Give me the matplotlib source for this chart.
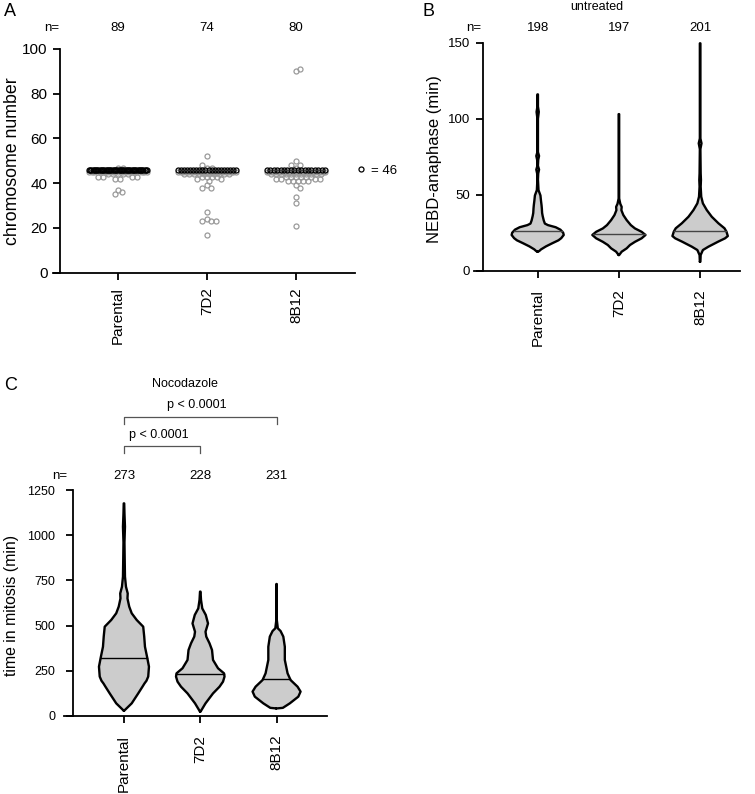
import numpy as np
import matplotlib
matplotlib.use('Agg')
import matplotlib.pyplot as plt
from matplotlib.lines import Line2D
from matplotlib.transforms import blended_transform_factory

plt.rcParams['font.family'] = ['Liberation Sans', 'DejaVu Sans']

W, H = 755, 794
groups = ['Parental', '7D2', '8B12']

# ---- A: chromosome number per cell (value -> number of cells)
par_chrom = [35, 36, 37, 42, 43, 44, 45, 46, 47]
par_cells = [1, 1, 1, 2, 4, 5, 23, 50, 2]
d7_chrom = [17, 23, 24, 27, 38, 39, 41, 42, 43, 44, 45, 46, 47, 48, 52]
d7_cells = [1, 3, 1, 1, 2, 1, 1, 2, 4, 10, 24, 20, 2, 1, 1]
b8_chrom = [21, 31, 34, 38, 39, 41, 42, 43, 44, 45, 46, 47, 48, 50, 90, 91]
b8_cells = [1, 1, 1, 1, 1, 5, 4, 6, 11, 25, 18, 1, 2, 1, 1, 1]
n_a = [89, 74, 80]

# ---- B: NEBD-anaphase (min), untreated: violin profiles (min, relative density)
b_par_min = [12.5, 13, 14, 16, 18, 20, 21.4, 23.5, 25, 27, 28.6, 30, 31, 33, 36, 38, 41, 43, 46, 49.5, 53,
             60, 64, 66.5, 69, 73, 75.5, 78, 100, 104.5, 108, 116]
b_par_den = [0.01, 0.06, 0.12, 0.3, 0.52, 0.75, 0.85, 0.94, 0.92, 0.82, 0.65, 0.37, 0.26, 0.22, 0.18, 0.16, 0.15,
             0.14, 0.12, 0.1, 0.03, 0.01, 0.02, 0.05, 0.01, 0.02, 0.05, 0.01, 0.01, 0.04, 0.01, 0.01]
b_d7_min = [10.3, 12.5, 14.7, 16.9, 19, 21.3, 23.5, 25.6, 27.8, 30, 33.3, 36.6, 39.8, 42, 44, 47.5, 103]
b_d7_den = [0.01, 0.1, 0.28, 0.4, 0.58, 0.82, 0.96, 0.82, 0.58, 0.43, 0.28, 0.16, 0.09, 0.1, 0.05, 0.01, 0.01]
b_b8_min = [5.9, 10.3, 13.6, 15.8, 19.1, 21.3, 22.8, 25.7, 27.9, 31.2, 35.5, 39.9, 44.3, 48.7, 55.3, 59.7,
            64, 80, 83.8, 87, 149.6]
b_b8_den = [0.01, 0.02, 0.1, 0.3, 0.65, 0.9, 1.0, 0.95, 0.88, 0.66, 0.42, 0.24, 0.1, 0.04, 0.02, 0.03,
            0.02, 0.01, 0.05, 0.01, 0.01]
median_b = [26, 24, 26]
n_b = [198, 197, 201]

# ---- C: time in mitosis (min), nocodazole
c_par_min = [29.5, 70, 125, 162, 180, 195, 218, 273, 323, 383, 439, 494, 531, 568, 605, 650, 678, 715,
             771, 863, 960, 1047, 1120, 1176]
c_par_den = [0.01, 0.31, 0.57, 0.74, 0.82, 0.9, 0.97, 1.0, 0.93, 0.84, 0.81, 0.77, 0.51, 0.31, 0.21,
             0.14, 0.15, 0.08, 0.04, 0.03, 0.02, 0.04, 0.02, 0.01]
c_d7_min = [24, 70, 125, 162, 190, 218, 236, 264, 310, 365, 402, 439, 466, 512, 559, 595, 642, 688]
c_d7_den = [0.01, 0.21, 0.51, 0.77, 0.91, 0.97, 0.95, 0.71, 0.51, 0.47, 0.37, 0.24, 0.21, 0.31, 0.22,
            0.08, 0.03, 0.01]
c_b8_min = [42, 45, 70, 107, 135, 162, 199, 236, 310, 383, 439, 470, 485, 531, 730]
c_b8_den = [0.02, 0.25, 0.53, 0.87, 0.96, 0.84, 0.56, 0.44, 0.33, 0.33, 0.27, 0.16, 0.05, 0.01, 0.01]
median_c = [323, 230, 203]
n_c = [273, 228, 231]
comparisons = [(0, 1, 'p < 0.0001'), (0, 2, 'p < 0.0001')]


fig = plt.figure(figsize=(W / 100, H / 100), dpi=100)


def px_axes(x0, x1, ytop, ybot):
    return fig.add_axes([x0 / W, 1 - ybot / H, (x1 - x0) / W, (ybot - ytop) / H])


def fy(ypx):
    return 1 - ypx / H


def style(ax, spine_x, ysize, pad_y, pad_x):
    for s in ['top', 'right']:
        ax.spines[s].set_visible(False)
    ax.spines['left'].set_position(('data', spine_x))
    for s in ['left', 'bottom']:
        ax.spines[s].set_linewidth(1.3)
    ax.tick_params(axis='y', direction='out', length=5, width=1.3, labelsize=ysize, pad=pad_y)
    ax.tick_params(axis='x', direction='out', length=5, width=1.3, labelsize=11, pad=pad_x)
    ax.set_xticks(range(3))
    ax.set_xticklabels(groups, rotation=90, va='top', ha='center')


def swarm(values, counts, px_x, px_y, d=5.0, maxw=58.0, dense=8, step=0.5):
    xs, ys = [], []
    placed = []
    mode = values[int(np.argmax(counts))]
    order = sorted(range(len(values)), key=lambda i: abs(values[i] - mode))
    for i in order:
        v, k = values[i], counts[i]
        if k >= dense:
            s = min(d, maxw / (k - 1))
            offs = (np.arange(k) - (k - 1) / 2) * s
            xs += list(offs)
            ys += [v] * k
            continue
        yp = v * px_y
        for _ in range(k):
            found = None
            for m in range(400):
                for sgn in (1, -1):
                    c = sgn * m * step
                    if all((c - px) ** 2 + (yp - py) ** 2 >= d * d - 1e-6 for px, py in placed):
                        found = c
                        break
                if found is not None:
                    break
            placed.append((found, yp))
            xs.append(found)
            ys.append(v)
    return np.array(xs) / px_x, np.array(ys)


def violin(ax, c, vals, dens, half, med, mcol):
    vals = np.asarray(vals, float)
    w = np.asarray(dens, float) * half
    ax.fill_betweenx(vals, c - w, c + w, facecolor='#cccccc', edgecolor='none', zorder=2, clip_on=False)
    xs = np.r_[c - w, (c + w)[::-1], c - w[0]]
    ys = np.r_[vals, vals[::-1], vals[0]]
    ax.plot(xs, ys, color='black', lw=1.7, solid_joinstyle='round', solid_capstyle='round',
            zorder=3, clip_on=False)
    mw = np.interp(med, vals, w)
    ax.plot([c - mw, c + mw], [med, med], color=mcol, lw=1.0, zorder=3)


# ================= Panel A
ax_a = px_axes(53, 355, 49, 272.7)
ax_a.set_xlim(-0.730, 2.663)
ax_a.set_ylim(0, 100)
style(ax_a, -0.652, 11, 4, 5.5)
ax_a.set_yticks(range(0, 101, 20))
ax_a.set_ylabel('chromosome number', fontsize=12.8)
ax_a.yaxis.set_label_coords(21 / W, fy(161), transform=fig.transFigure)

for gi, (vals, cnts) in enumerate([(par_chrom, par_cells), (d7_chrom, d7_cells), (b8_chrom, b8_cells)]):
    ox, yy = swarm(vals, cnts, 89.0, 2.237)
    grey = yy != 46
    ax_a.plot(gi + ox[grey], yy[grey], ls='none', marker='o', ms=3.6, mfc='none', mec='#9a9a9a',
              mew=0.9, zorder=3, clip_on=False)
    ax_a.plot(gi + ox[~grey], yy[~grey], ls='none', marker='o', ms=3.6, mfc='none', mec='black',
              mew=0.9, zorder=4, clip_on=False)

ax_a.legend(handles=[Line2D([], [], ls='none', marker='o', ms=3.6, mfc='none', mec='black', mew=0.9)],
            labels=['= 46'], loc='center left', bbox_to_anchor=(356 / W, fy(170.7)),
            bbox_transform=fig.transFigure, frameon=False, handlelength=0.8, handletextpad=0.3,
            borderpad=0, borderaxespad=0, fontsize=9.5)

tr_a = blended_transform_factory(ax_a.transData, fig.transFigure)
for gi, n in enumerate(n_a):
    ax_a.text(gi, fy(28), str(n), transform=tr_a, ha='center', va='center', fontsize=9.5)
fig.text(52 / W, fy(28), 'n=', ha='center', va='center', fontsize=9.5)
fig.text(10 / W, fy(12), 'A', ha='center', va='center', fontsize=13)

# ================= Panel B
ax_b = px_axes(474, 740, 42.7, 270.7)
ax_b.set_xlim(-0.784, 2.491)
ax_b.set_ylim(0, 150)
style(ax_b, -0.670, 9.5, 4.5, 8.5)
ax_b.set_yticks([0, 50, 100, 150])
ax_b.set_ylabel('NEBD-anaphase (min)', fontsize=12)
ax_b.yaxis.set_label_coords(442 / W, fy(159), transform=fig.transFigure)

half_b = 27.7 / 81.2
for gi, (vv, dd) in enumerate([(b_par_min, b_par_den), (b_d7_min, b_d7_den), (b_b8_min, b_b8_den)]):
    violin(ax_b, gi, vv, dd, half_b, median_b[gi], '#444444')

tr_b = blended_transform_factory(ax_b.transData, fig.transFigure)
for gi, n in enumerate(n_b):
    ax_b.text(gi, fy(28), str(n), transform=tr_b, ha='center', va='center', fontsize=9.5)
fig.text(473.5 / W, fy(28), 'n=', ha='center', va='center', fontsize=9.5)
fig.text(597 / W, fy(7.5), 'untreated', ha='center', va='center', fontsize=9)
fig.text(429 / W, fy(12), 'B', ha='center', va='center', fontsize=13)

# ================= Panel C
ax_c = px_axes(64.3, 326.7, 490, 716)
ax_c.set_xlim(-0.782, 2.657)
ax_c.set_ylim(0, 1250)
style(ax_c, -0.664, 9, 8, 8.5)
ax_c.set_yticks(range(0, 1251, 250))
ax_c.set_ylabel('time in mitosis (min)', fontsize=11.4)
ax_c.yaxis.set_label_coords(19 / W, fy(605), transform=fig.transFigure)

half_c = 25.0 / 76.3
for gi, (vv, dd) in enumerate([(c_par_min, c_par_den), (c_d7_min, c_d7_den), (c_b8_min, c_b8_den)]):
    violin(ax_c, gi, vv, dd, half_c, median_c[gi], 'black')

tr_c = blended_transform_factory(ax_c.transData, fig.transFigure)
for gi, n in enumerate(n_c):
    ax_c.text(gi, fy(476), str(n), transform=tr_c, ha='center', va='center', fontsize=9.5)
fig.text(60 / W, fy(476), 'n=', ha='center', va='center', fontsize=9.5)

# significance brackets
for lvl, (g1, g2, label) in enumerate(comparisons):
    ytop = 446 - 29.5 * lvl
    ax_c.plot([g1, g1, g2, g2], [fy(ytop + 7), fy(ytop), fy(ytop), fy(ytop + 7)], transform=tr_c,
              color='#555555', lw=0.9, clip_on=False)
    ax_c.text((g1 + g2) / 2 - 0.04, fy(ytop - 11), label, transform=tr_c, ha='center', va='center', fontsize=9)

fig.text(185 / W, fy(384), 'Nocodazole', ha='center', va='center', fontsize=9)
fig.text(11 / W, fy(385), 'C', ha='center', va='center', fontsize=13)

fig.savefig('out.png', dpi=100)
